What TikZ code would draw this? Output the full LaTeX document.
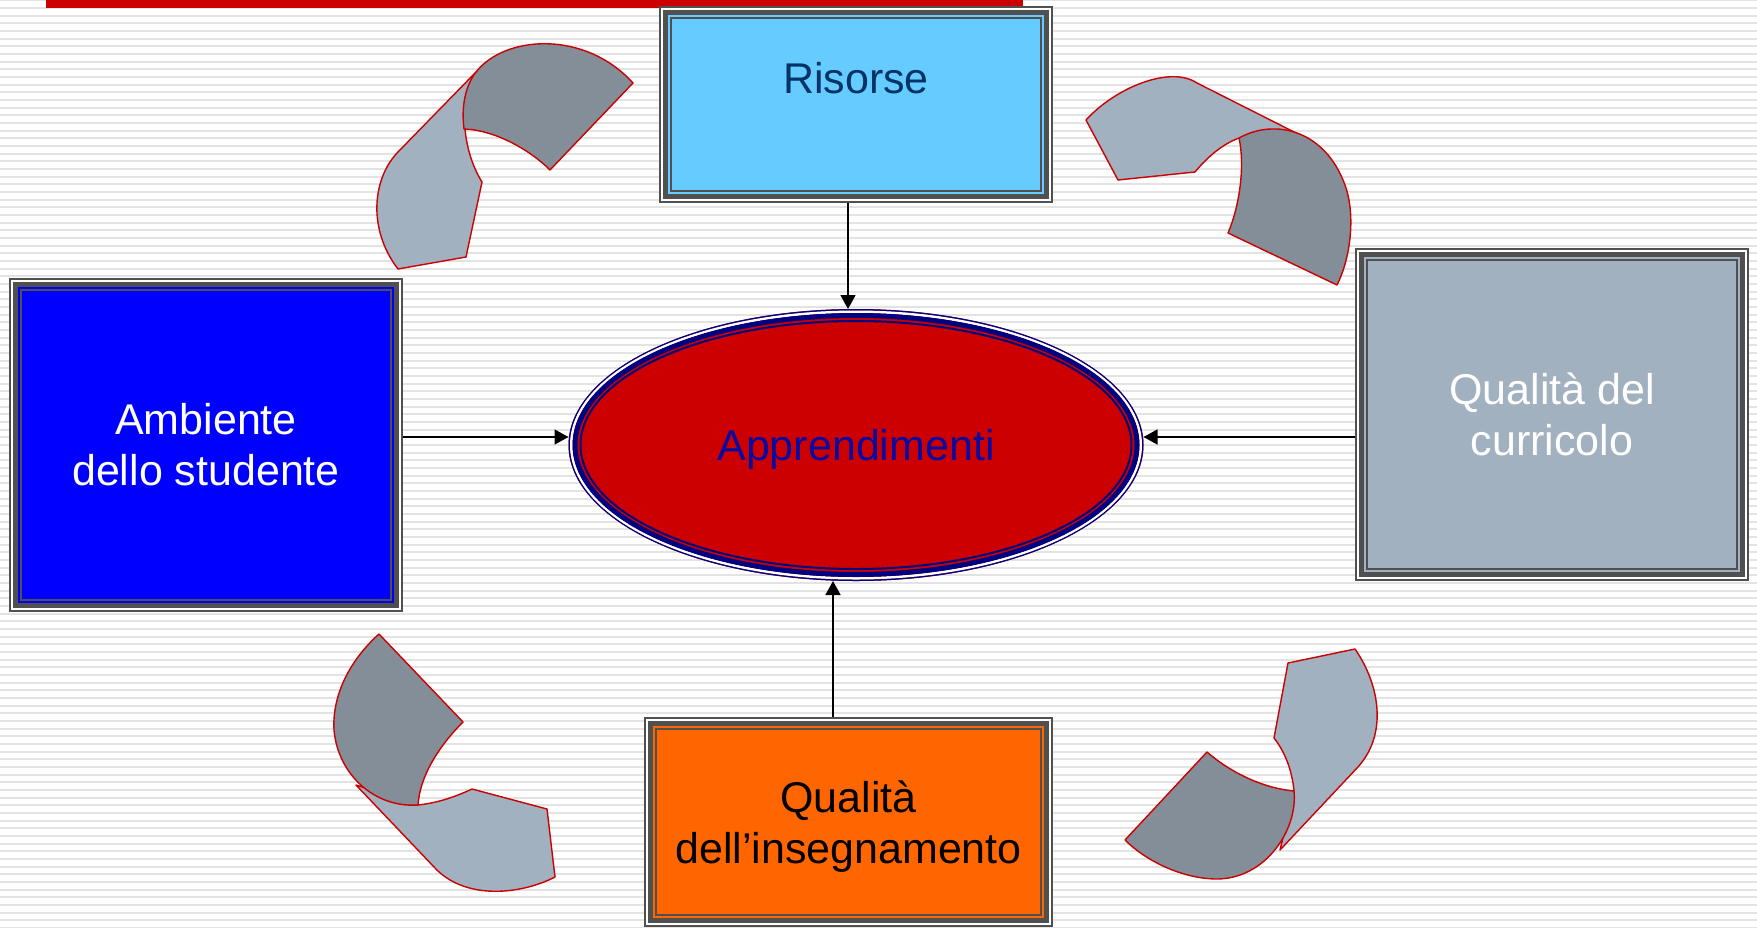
\documentclass[tikz,border=0pt]{standalone}
\usepackage{fontspec}
\setmainfont{Liberation Sans}
\usetikzlibrary{arrows.meta,shapes.geometric}
\definecolor{stripe}{HTML}{E3E3E3}
\definecolor{barred}{HTML}{CC0000}
\definecolor{risFill}{HTML}{66CCFF}
\definecolor{risText}{HTML}{003366}
\definecolor{ambFill}{HTML}{0000FF}
\definecolor{curFill}{HTML}{A2B1C0}
\definecolor{insFill}{HTML}{FF6600}
\definecolor{appRed}{HTML}{CC0000}
\definecolor{navy}{HTML}{000080}
\definecolor{appText}{HTML}{0A0AA0}
\definecolor{framegray}{HTML}{505050}
\definecolor{ribDark}{HTML}{848E98}
\definecolor{ribLight}{HTML}{A2B1C0}
\newcommand\myframe[1]{%
  \draw[line width=1pt,framegray] ([shift={(1,1)}]#1.north west) rectangle ([shift={(-1,-1)}]#1.south east);
  \draw[line width=1pt,white] ([shift={(3,3)}]#1.north west) rectangle ([shift={(-3,-3)}]#1.south east);
  \draw[line width=2.5pt,framegray] ([shift={(6.5,6.5)}]#1.north west) rectangle ([shift={(-6.5,-6.5)}]#1.south east);
  \draw[line width=1pt,framegray] ([shift={(12,12)}]#1.north west) rectangle ([shift={(-12,-12)}]#1.south east);}
\begin{document}
\begin{tikzpicture}[x=0.5pt,y=-0.5pt,
  boxnode/.style={rectangle,inner sep=0pt,outer sep=0pt,align=center,
    font=\fontsize{21.5pt}{25.5pt}\selectfont},
  lbl/.style={inner sep=0pt,outer sep=0pt,font=\fontsize{21.5pt}{25.5pt}\selectfont},
  ribbon/.style={draw=barred,line width=0.7pt,line join=round},
  conn/.style={draw=black,line width=0.8pt,-{Triangle[length=7pt,width=7.5pt]}}]
\useasboundingbox (0,0) rectangle (1757,927);
\fill[white] (0,0) rectangle (1757,927);
\foreach \i in {0,...,121} \fill[stripe] (0,{0.33+7.667*\i-1}) rectangle (1757,{0.33+7.667*\i+1});
\fill[barred] (46,0) rectangle (1023,8.3);

% ribbons
\filldraw[ribbon,fill=ribLight] (476,72) -- (397,153) .. controls (372,180) and (368,230) .. (398,269) -- (466,257) -- (482,182) .. controls (462,150) and (458,100) .. (476,72) -- cycle;
\filldraw[ribbon,fill=ribDark] (476,72) .. controls (505,35) and (585,30) .. (633,83) -- (550,170) .. controls (530,150) and (495,130) .. (464,129) .. controls (461,105) and (466,85) .. (476,72) -- cycle;

\filldraw[ribbon,fill=ribLight] (1086,120) .. controls (1115,88) and (1170,65) .. (1197,83) -- (1300,135) -- (1239,138) .. controls (1220,145) and (1205,160) .. (1195,172) -- (1118,180) -- cycle;
\filldraw[ribbon,fill=ribDark] (1239,138) .. controls (1275,118) and (1325,130) .. (1345,185) .. controls (1355,212) and (1352,255) .. (1337,285) -- (1228,233) .. controls (1240,205) and (1245,165) .. (1239,138) -- cycle;

\filldraw[ribbon,fill=ribLight] (356,785) -- (435,868) .. controls (465,900) and (520,895) .. (555,877) -- (547,809) -- (472,789) .. controls (455,797) and (437,803) .. (418,805) -- cycle;
\filldraw[ribbon,fill=ribDark] (379,634) -- (463,722) .. controls (440,745) and (420,775) .. (418,805) .. controls (375,808) and (338,775) .. (334,730) .. controls (332,695) and (350,660) .. (379,634) -- cycle;

\filldraw[ribbon,fill=ribLight] (1288,663) -- (1355,649) .. controls (1380,685) and (1388,735) .. (1357,768) -- (1280,850) -- (1294,791) .. controls (1292,770) and (1285,752) .. (1274,738) -- cycle;
\filldraw[ribbon,fill=ribDark] (1125,840) -- (1207,752) .. controls (1230,772) and (1262,788) .. (1294,791) .. controls (1298,830) and (1265,880) .. (1215,879) .. controls (1180,878) and (1145,860) .. (1125,840) -- cycle;

% boxes
\node[boxnode,fill=risFill,minimum width=197pt,minimum height=98.5pt] (ris) at (856,104.5) {};
\myframe{ris}
\node[lbl,text=risText] (risT) at ([yshift=13.1pt]ris.center) {Risorse};

\node[boxnode,fill=ambFill,text=white,minimum width=197pt,minimum height=167pt] (amb) at (206,445) {Ambiente\\dello studente};
\myframe{amb}

\node[boxnode,fill=curFill,text=white,minimum width=197pt,minimum height=166.5pt] (cur) at (1552,414.5) {Qualità del\\curricolo};
\myframe{cur}

\node[boxnode,fill=insFill,text=black,text depth=0pt,minimum width=204.5pt,minimum height=105pt] (ins) at (848.5,822) {Qualità\\dell’insegnamento};
\myframe{ins}

% ellipse
\node[ellipse,inner sep=0pt,outer sep=0pt,fill=appRed,minimum width=287.5pt,minimum height=136pt,
  text=appText,text depth=0pt,font=\fontsize{21.5pt}{25.5pt}\selectfont] (app) at (856,445) {Apprendimenti};
\draw[navy,line width=0.75pt] (app.center) ellipse [x radius=143.375pt,y radius=67.625pt];
\draw[white,line width=1.25pt] (app.center) ellipse [x radius=142.375pt,y radius=66.625pt];
\draw[navy,line width=2.5pt] (app.center) ellipse [x radius=140.5pt,y radius=64.75pt];
\draw[navy,line width=1pt] (app.center) ellipse [x radius=137.75pt,y radius=62pt];

% connectors
\draw[conn] ([xshift=-4pt]ris.south) -- ([xshift=-4pt]app.north);
\draw[conn] ([yshift=4pt]amb.east) -- ([yshift=4pt]app.west);
\draw[conn] ([yshift=-11.25pt]cur.west) -- ([yshift=4pt]app.east);
\draw[conn] ([xshift=-7.75pt]ins.north) -- ([xshift=-11.5pt]app.south);
\end{tikzpicture}
\end{document}
